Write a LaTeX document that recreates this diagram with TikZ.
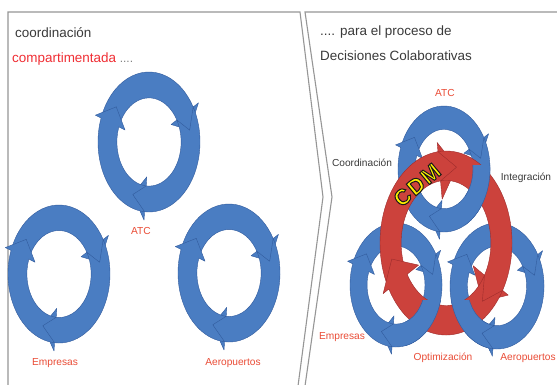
\documentclass[tikz,border=0pt]{standalone}
\usepackage{fontspec}
\setmainfont{Liberation Sans}
\newfontfamily\cdmfont[LetterSpace=8]{Liberation Sans}
\definecolor{ringblue}{RGB}{74,125,194}
\definecolor{ringblueline}{RGB}{50,92,158}
\definecolor{ringred}{RGB}{204,66,60}
\definecolor{ringredline}{RGB}{158,44,44}
\definecolor{labelred}{RGB}{234,76,54}
\definecolor{titlered}{RGB}{240,46,52}
\definecolor{darktext}{RGB}{58,58,58}
\definecolor{framegray}{RGB}{150,150,150}
\definecolor{cdmyellow}{RGB}{255,240,0}
\tikzset{
  bluearrow/.style={fill=ringblue, draw=ringblueline, line width=0.4pt, line join=round},
  redarrow/.style={fill=ringred, draw=ringredline, line width=0.4pt, line join=round},
  frameline/.style={draw=framegray, line width=1.1pt, line join=miter},
  lbl/.style={font=\fontsize{10.2}{12}\selectfont, text=labelred, inner sep=0pt},
  dlbl/.style={font=\fontsize{10.2}{12}\selectfont, text=darktext, inner sep=0pt},
  titletext/.style={font=\fontsize{13.5}{16}\selectfont, text=darktext, inner sep=0pt, anchor=base west},
  cdmtext/.style={font=\cdmfont\bfseries\fontsize{22}{24}\selectfont, rotate=40, inner sep=0pt},
}
% outlined text: fill in current colour, dark stroke
\newcommand\outlined[1]{\special{pdf:literal direct 2 Tr 1 w 0.1 0.1 0.1 RG}#1\special{pdf:literal direct 0 Tr}}
% one arrow segment of a circular arrow: #1 tail angle, #2 tip angle, #3 head length,
% #4 outer radius, #5 inner radius, #6 outer barb radius, #7 inner barb radius
\newcommand\arrowseg[7]{%
  \pgfmathsetmacro\segB{#2+#3}%
  \pgfmathsetmacro\segN{#1-#3}%
  \pgfmathsetmacro\segM{(#4+#5)/2}%
  \filldraw (#1:#4) arc[start angle=#1, end angle=\segB, radius=#4]
    -- (\segB:#6) -- (#2:\segM) -- (\segB:#7) -- (\segB:#5)
    arc[start angle=\segB, end angle=#1, radius=#5] -- (\segN:\segM) -- cycle;
}
\newcommand\bluering[4]{%
  \begin{scope}[shift={(#1,384-#2)}, xscale=#3, yscale=#4, bluearrow]
    \arrowseg{160}{12}{18}{1}{0.63}{1.12}{0.5}
    \arrowseg{30}{-113}{18}{1}{0.63}{1.12}{0.5}
    \arrowseg{-95}{-218}{18}{1}{0.63}{1.12}{0.5}
  \end{scope}}
\begin{document}
\begin{tikzpicture}[x=1bp,y=1bp]
\useasboundingbox (0,0) rectangle (557,384);
\fill[white] (0,0) rectangle (557,384);
% panel frames
\draw[frameline] (8,-2) -- (8,372) -- (300,372) -- (323,187) -- (298,-2);
\draw[frameline] (559,372) -- (305,372) -- (332,187) -- (305,-2);
% titles
\node[titletext] (t1) at (15,347) {coordinación};
\node[titletext] (t2) at (12,322) {\textcolor{titlered}{compartimentada} {\fontsize{12}{14}\selectfont\textcolor{gray}{....}}};
\node[titletext] (t3) at (320,349) {.... para el proceso de};
\node[titletext] (t4) at (320,324) {Decisiones Colaborativas};
% left panel rings
\bluering{149}{142}{51}{70}
\bluering{59}{274}{51}{69}
\bluering{229}{273}{51}{69}
% right panel rings
\bluering{444}{169}{46}{63}
\bluering{396}{285}{46}{62}
\bluering{497}{286}{47}{63}
% red CDM ring
\begin{scope}[shift={(446,384-243)}, xscale=66, yscale=92, redarrow]
  \arrowseg{210}{79}{18}{1}{0.68}{1.1}{0.48}
  \arrowseg{97}{-49}{18}{1}{0.68}{1.1}{0.48}
  \arrowseg{-31}{-168}{18}{1}{0.68}{1.1}{0.48}
\end{scope}
% blue parts woven over the red ring
\begin{scope}
  \clip (465,384-165) rectangle (500,384-225);
  \bluering{444}{169}{46}{63}
\end{scope}
\begin{scope}
  \clip (405,384-300) rectangle (445,384-350);
  \bluering{396}{285}{46}{62}
\end{scope}
\begin{scope}
  \clip (450,384-300) rectangle (490,384-352);
  \bluering{497}{286}{47}{63}
\end{scope}
% CDM text with dark outline
\node[cdmtext, text=cdmyellow] (cdm) at (417,199) {\outlined{CDM}};
% labels
\node[lbl] (latc) at (141,384-231) {ATC};
\node[lbl] (lemp) at (55,384-363) {Empresas};
\node[lbl] (laer) at (233,384-363) {Aeropuertos};
\node[lbl] (ratc) at (445,384-93) {ATC};
\node[dlbl] (rcoo) at (362,384-163) {Coordinación};
\node[dlbl] (rint) at (526,384-178) {Integración};
\node[lbl] (remp) at (342,384-337) {Empresas};
\node[lbl] (ropt) at (443,384-358) {Optimización};
\node[lbl] (raer) at (528,384-358) {Aeropuertos};
\end{tikzpicture}
\end{document}
